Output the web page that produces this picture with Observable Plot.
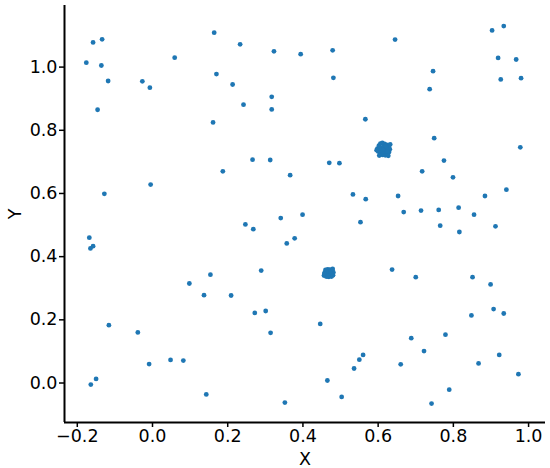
<!DOCTYPE html>
<html><head><meta charset="utf-8">
<script src="https://cdn.jsdelivr.net/npm/d3@7"></script>
<script src="https://cdn.jsdelivr.net/npm/@observablehq/plot@0.6"></script>
<style>body{margin:0;background:#fff} #chart svg{display:block}</style>
</head><body><div id="chart"></div>
<script>
// scattered points
const scatterX = [-0.176,-0.158,-0.134,-0.136,-0.118,-0.146,-0.027,-0.007,0.059,0.164,0.233,0.323,0.394,0.170,0.213,0.317,0.242,0.317,0.161,0.266,0.313,0.187,0.366,-0.005,-0.128,0.341,0.399,0.247,0.268,
0.479,0.481,0.645,0.903,0.934,0.919,0.967,0.746,0.737,0.926,0.980,0.566,0.749,0.978,0.470,0.497,0.775,0.717,0.799,0.941,0.884,0.533,0.567,0.653,0.668,0.714,0.761,0.814,0.855,0.553,0.765,0.912,0.816,
-0.168,-0.165,-0.158,0.357,0.378,0.289,0.154,0.098,0.137,0.209,0.272,0.301,0.314,-0.116,-0.039,-0.009,0.048,0.082,-0.150,-0.164,0.143,0.352,
0.637,0.700,0.851,0.899,0.907,0.934,0.848,0.446,0.779,0.688,0.722,0.560,0.550,0.536,0.922,0.867,0.660,0.973,0.465,0.789,0.503,0.742];
const scatterY = [1.014,1.078,1.088,1.005,0.956,0.865,0.955,0.935,1.030,1.109,1.072,1.050,1.041,0.978,0.945,0.906,0.881,0.866,0.825,0.707,0.706,0.670,0.658,0.628,0.599,0.522,0.533,0.502,0.487,
1.053,0.966,1.087,1.116,1.130,1.029,1.024,0.987,0.930,0.961,0.965,0.835,0.775,0.746,0.697,0.696,0.704,0.670,0.651,0.612,0.592,0.597,0.582,0.592,0.541,0.546,0.548,0.555,0.533,0.509,0.498,0.496,0.478,
0.460,0.426,0.433,0.442,0.458,0.356,0.343,0.315,0.278,0.277,0.222,0.228,0.159,0.183,0.160,0.060,0.073,0.071,0.013,-0.005,-0.036,-0.062,
0.359,0.335,0.335,0.312,0.234,0.220,0.214,0.187,0.153,0.142,0.101,0.089,0.074,0.046,0.089,0.062,0.059,0.028,0.008,-0.021,-0.044,-0.065];
// dense cluster near (0.61, 0.74)
const clusterAX = [0.598,0.602,0.606,0.611,0.617,0.623,0.628,0.631,0.629,0.625,0.619,0.612,0.605,0.600,0.604,0.609,0.615,0.621,0.617,0.611,0.607,0.613,0.620,0.625,0.596,0.632,0.603,0.627];
const clusterAY = [0.742,0.751,0.758,0.760,0.757,0.754,0.748,0.740,0.731,0.724,0.721,0.722,0.726,0.733,0.740,0.745,0.748,0.742,0.734,0.731,0.737,0.739,0.750,0.733,0.737,0.755,0.720,0.719];
// dense cluster near (0.47, 0.35)
const clusterBX = [0.456,0.458,0.460,0.466,0.472,0.478,0.481,0.480,0.476,0.469,0.462,0.464,0.470,0.475,0.468,0.473,0.463,0.457,0.479,0.466];
const clusterBY = [0.340,0.350,0.358,0.360,0.359,0.357,0.350,0.341,0.337,0.336,0.337,0.346,0.349,0.345,0.342,0.353,0.353,0.345,0.361,0.338];

const xTicks = [-0.2, 0.0, 0.2, 0.4, 0.6, 0.8, 1.0];
const yTicks = [0.0, 0.2, 0.4, 0.6, 0.8, 1.0];
const xDomain = [-0.234, 1.045];
const yDomain = [-0.125, 1.195];

const points = [
  ...scatterX.map((x, i) => ({x, y: scatterY[i]})),
  ...clusterAX.map((x, i) => ({x, y: clusterAY[i]})),
  ...clusterBX.map((x, i) => ({x, y: clusterBY[i]}))
];
const fmt = d3.format(".1f");

const chart = Plot.plot({
  width: 550, height: 468,
  marginLeft: 64, marginRight: 5, marginTop: 5, marginBottom: 46,
  style: "font-family: 'DejaVu Sans'; font-size: 17.5px; color: black; background: white;",
  x: {domain: xDomain},
  y: {domain: yDomain},
  marks: [
    Plot.axisX({ticks: xTicks, tickFormat: fmt, tickSize: 5, tickPadding: 2, strokeWidth: 1.5, fontSize: 17.5,
      label: "X", labelAnchor: "center", labelArrow: "none", labelOffset: 42}),
    Plot.axisY({ticks: yTicks, tickFormat: fmt, tickSize: 5, tickPadding: 2, strokeWidth: 1.5, fontSize: 17.5,
      label: "Y", labelAnchor: "center", labelArrow: "none", labelOffset: 56}),
    Plot.ruleX([xDomain[0]], {stroke: "black", strokeWidth: 2}),
    Plot.ruleY([yDomain[0]], {stroke: "black", strokeWidth: 2}),
    Plot.dot(points, {x: "x", y: "y", r: 2.4, fill: "#1f77b4"})
  ]
});
document.getElementById("chart").appendChild(chart);
</script>
</body></html>
